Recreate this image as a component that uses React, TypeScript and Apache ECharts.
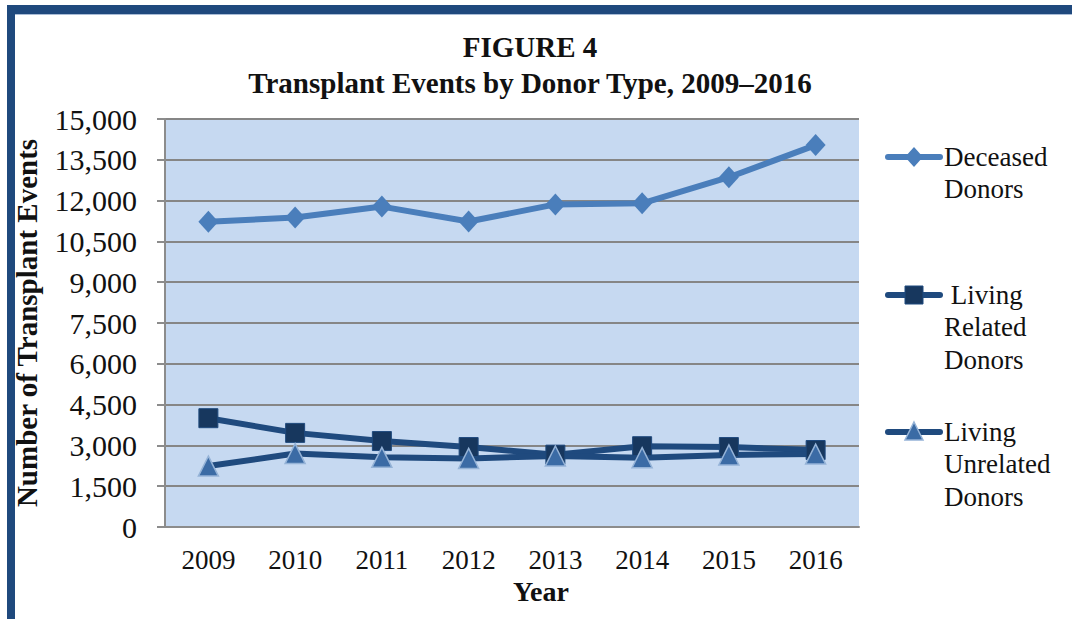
import React, { useEffect, useRef } from "react";
import * as echarts from "echarts";

const years = ["2009", "2010", "2011", "2012", "2013", "2014", "2015", "2016"];
const deceased = [11220, 11380, 11780, 11230, 11860, 11900, 12860, 14040];
const livingRelated = [4000, 3460, 3160, 2940, 2660, 2970, 2940, 2830];
const livingUnrelated = [2240, 2700, 2560, 2520, 2610, 2550, 2650, 2680];
const seriesNames = ["Deceased Donors", "Living Related Donors", "Living Unrelated Donors"];
const legendLabels = ["Deceased\nDonors", " Living\nRelated\nDonors", "Living\nUnrelated\nDonors"];
const titleLines = ["FIGURE 4", "Transplant Events by Donor Type, 2009\u20132016"];
const yTicks = [0, 1500, 3000, 4500, 6000, 7500, 9000, 10500, 12000, 13500, 15000];

const FONT = "'Liberation Serif', 'Times New Roman', serif";
const FRAME = "#1F497D";
const C_DEC = "#4A7EBB";
const C_LINE_DARK = "#1F4A7E";
const C_SQ = "#17375E";
const C_TRI = "#3B6BA5";
const C_TRI_BORDER = "#95B3D7";

export default function App() {
  const ref = useRef<HTMLDivElement>(null);
  useEffect(() => {
    if (!ref.current) return;
    const chart = echarts.init(ref.current, undefined, { renderer: "svg" });
    const legendX = 888;
    const legendRows = [157, 295, 432];
    const legendGraphics: any[] = [];
    legendRows.forEach((cy, i) => {
      const lineColor = i === 0 ? C_DEC : C_LINE_DARK;
      legendGraphics.push({
        type: "line",
        shape: { x1: legendX, y1: cy, x2: legendX + 52, y2: cy },
        style: { stroke: lineColor, lineWidth: 6, lineCap: "round" },
      });
      const mx = legendX + 26;
      if (i === 0) {
        legendGraphics.push({
          type: "polygon",
          shape: { points: [[mx, cy - 10], [mx + 9, cy], [mx, cy + 10], [mx - 9, cy]] },
          style: { fill: C_DEC },
        });
      } else if (i === 1) {
        legendGraphics.push({
          type: "rect",
          shape: { x: mx - 9, y: cy - 9, width: 18, height: 18 },
          style: { fill: C_SQ, stroke: C_LINE_DARK, lineWidth: 1 },
        });
      } else {
        legendGraphics.push({
          type: "polygon",
          shape: { points: [[mx, cy - 10], [mx + 9, cy + 8], [mx - 9, cy + 8]] },
          style: { fill: C_TRI, stroke: C_TRI_BORDER, lineWidth: 1.5 },
        });
      }
      legendGraphics.push({
        type: "text",
        x: 944,
        y: cy - 16.5,
        style: {
          text: legendLabels[i],
          font: `27px ${FONT}`,
          fill: "#111",
          lineHeight: 32.5,
          verticalAlign: "top",
          align: "left",
        },
      });
    });

    chart.setOption({
      animation: false,
      backgroundColor: "#ffffff",
      title: [
        {
          text: titleLines[0] + "\n" + titleLines[1],
          left: 525,
          top: 24,
          textAlign: "center",
          textStyle: { fontFamily: FONT, fontSize: 29, fontWeight: "bold", color: "#111", lineHeight: 36 },
        },
      ],
      grid: { left: 165, right: 213, top: 119, bottom: 92, containLabel: false, show: true, backgroundColor: "#C6D9F1", borderWidth: 0 },
      xAxis: {
        type: "category",
        data: years,
        boundaryGap: true,
        axisLine: { lineStyle: { color: "#8C8C8C", width: 2 } },
        axisTick: { show: false },
        axisLabel: { fontFamily: FONT, fontSize: 27, color: "#111", margin: 19 },
        name: "Year",
        nameLocation: "middle",
        nameGap: 50,
        nameTextStyle: { fontFamily: FONT, fontSize: 28, fontWeight: "bold", color: "#111", padding: [0, 0, 0, 58] },
      },
      yAxis: {
        type: "value",
        min: yTicks[0],
        max: yTicks[yTicks.length - 1],
        interval: 1500,
        axisLine: { show: true, lineStyle: { color: "#8C8C8C", width: 2 } },
        axisTick: { show: true, length: 8, lineStyle: { color: "#8C8C8C", width: 2 } },
        splitLine: { lineStyle: { color: "#868686", width: 2 } },
        axisLabel: {
          fontFamily: FONT,
          fontSize: 30,
          color: "#111",
          margin: 28,
          formatter: (v: number) => v.toLocaleString("en-US"),
        },
        name: "Number of Transplant Events",
        nameLocation: "middle",
        nameGap: 124,
        nameTextStyle: { fontFamily: FONT, fontSize: 29, fontWeight: "bold", color: "#111" },
      },
      series: [
        {
          name: seriesNames[0],
          type: "line",
          data: deceased,
          symbol: "diamond",
          symbolSize: [20, 22],
          lineStyle: { color: C_DEC, width: 6 },
          itemStyle: { color: C_DEC },
        },
        {
          name: seriesNames[1],
          type: "line",
          data: livingRelated,
          symbol: "rect",
          symbolSize: 19,
          lineStyle: { color: C_LINE_DARK, width: 6 },
          itemStyle: { color: C_SQ, borderColor: C_LINE_DARK, borderWidth: 1 },
        },
        {
          name: seriesNames[2],
          type: "line",
          data: livingUnrelated,
          symbol: "triangle",
          symbolSize: 20,
          lineStyle: { color: C_LINE_DARK, width: 6 },
          itemStyle: { color: C_TRI, borderColor: C_TRI_BORDER, borderWidth: 1.5 },
        },
      ],
      graphic: [
        { type: "rect", shape: { x: 7, y: 5, width: 1070, height: 9 }, style: { fill: FRAME } },
        { type: "rect", shape: { x: 7, y: 5, width: 8, height: 620 }, style: { fill: FRAME } },
        { type: "line", shape: { x1: 15, y1: 14.5, x2: 1072, y2: 14.5 }, style: { stroke: "#A9BCD6", lineWidth: 1 } },
        ...legendGraphics,
      ],
    });
    return () => chart.dispose();
  }, []);
  return (
    <div
      ref={ref}
      style={{ position: "fixed", left: 0, top: 0, width: 1072, height: 619 }}
    />
  );
}
